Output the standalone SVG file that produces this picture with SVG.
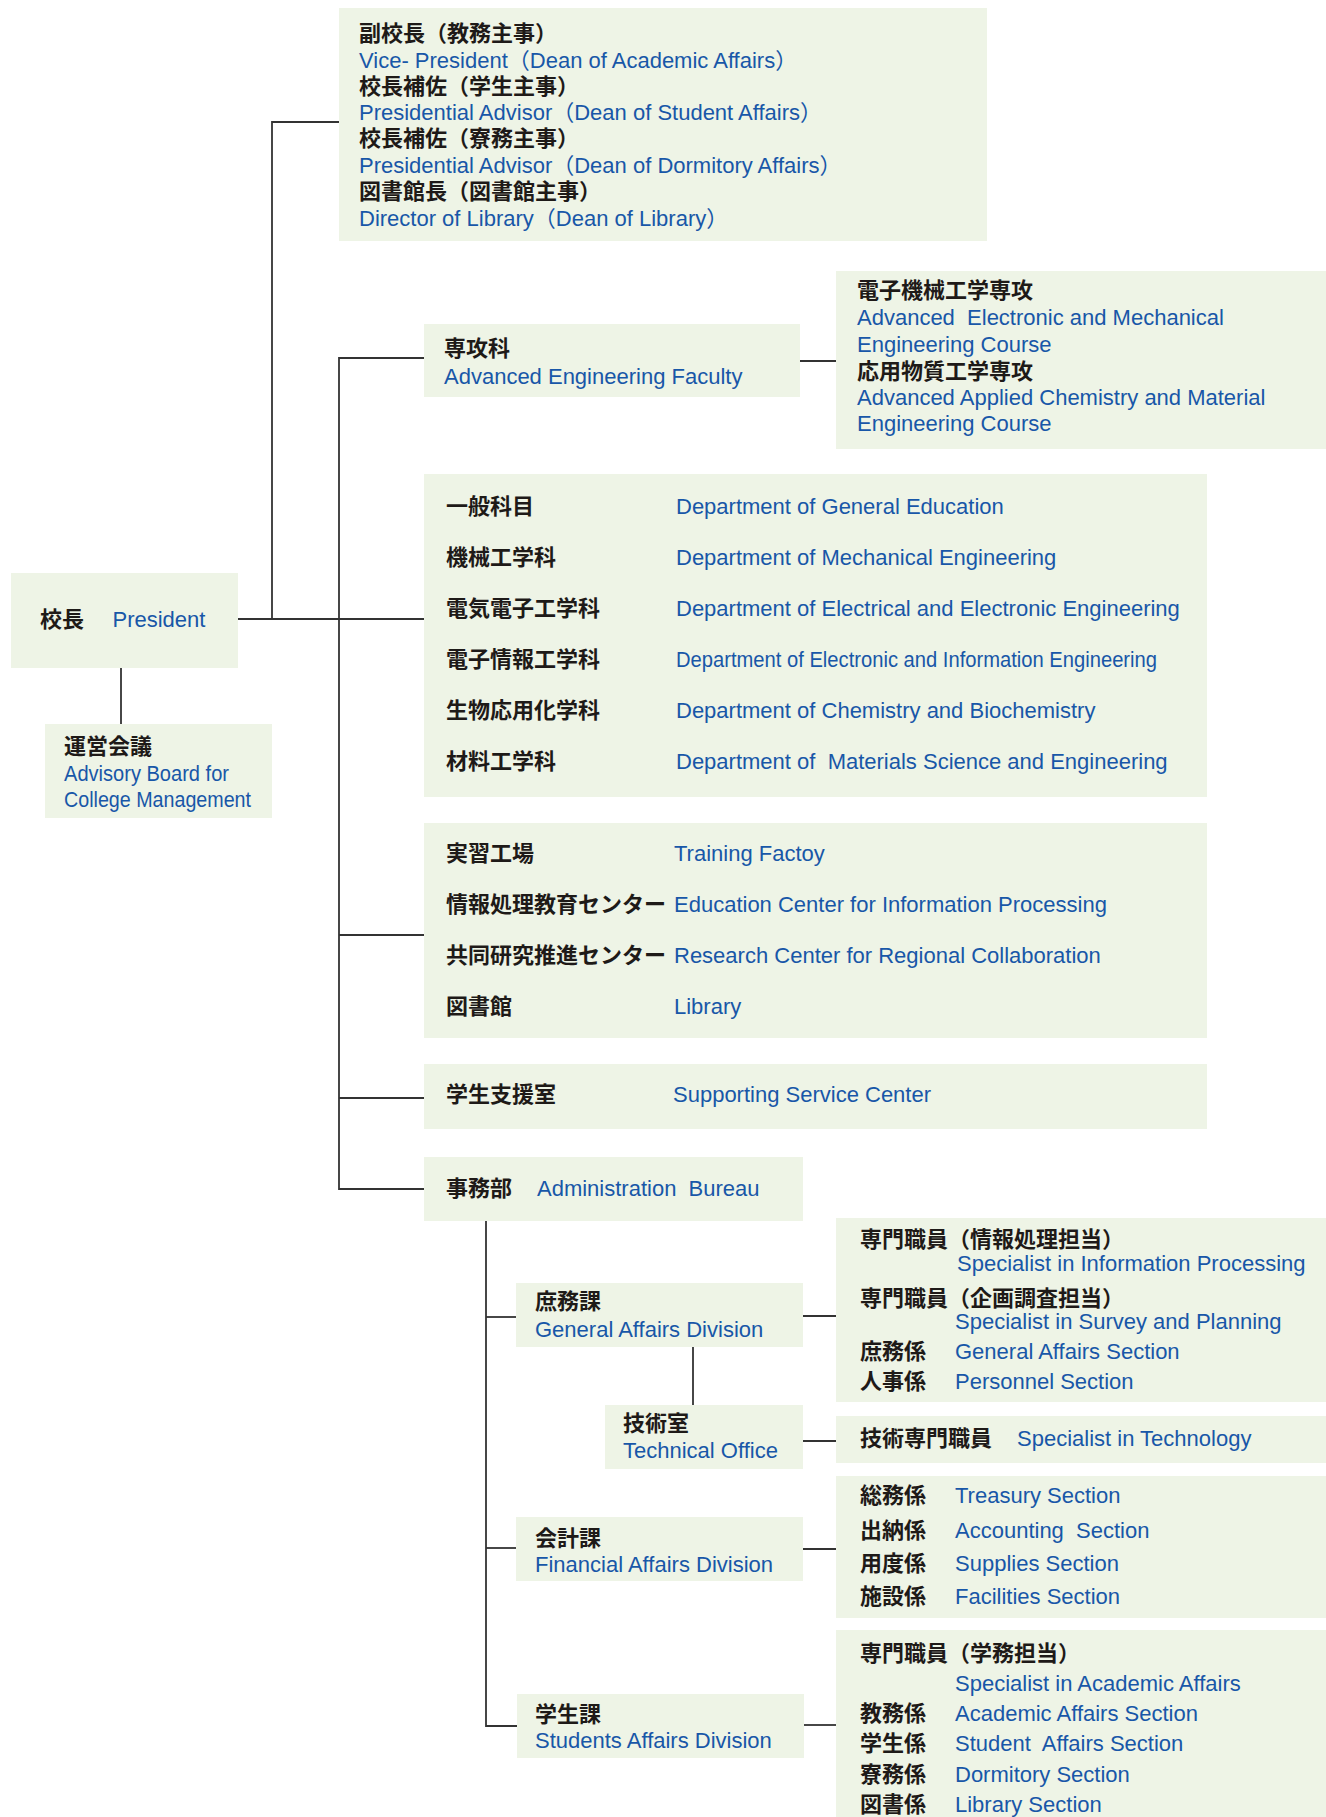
<svg xmlns="http://www.w3.org/2000/svg" width="1326" height="1817" viewBox="0 0 1326 1817">
<style>
.bx{fill:#eef4e6}
.ln{stroke:#333333;stroke-width:1.8;fill:none}
text{font-family:"Liberation Sans","Noto Sans CJK JP",sans-serif;font-size:22px}
.j{fill:#1e1a18;font-weight:bold}
.e{fill:#1857a8}
</style>
<rect width="1326" height="1817" fill="#ffffff"/>
<g id="connectors">
<path class="ln" d="M339 122H272V619"/>
<path class="ln" d="M238 619H424"/>
<path class="ln" d="M424 358H339V1189H424"/>
<path class="ln" d="M800 361H836"/>
<path class="ln" d="M339 935H424"/>
<path class="ln" d="M339 1098H424"/>
<path class="ln" d="M121 667V724"/>
<path class="ln" d="M486 1221V1726H517"/>
<path class="ln" d="M486 1317H516"/>
<path class="ln" d="M803 1316H836"/>
<path class="ln" d="M693 1347V1405"/>
<path class="ln" d="M803 1441H836"/>
<path class="ln" d="M486 1548H516"/>
<path class="ln" d="M803 1549H836"/>
<path class="ln" d="M804 1725H836"/>
</g>
<g id="vice">
<rect class="bx" x="339" y="8" width="648" height="233"/>
<text class="j" x="359" y="41">副校長（教務主事）</text>
<text class="e" x="359" y="68">Vice- President（Dean of Academic Affairs）</text>
<text class="j" x="359" y="94">校長補佐（学生主事）</text>
<text class="e" x="359" y="120">Presidential Advisor（Dean of Student Affairs）</text>
<text class="j" x="359" y="146">校長補佐（寮務主事）</text>
<text class="e" x="359" y="173">Presidential Advisor（Dean of Dormitory Affairs）</text>
<text class="j" x="359" y="199">図書館長（図書館主事）</text>
<text class="e" x="359" y="226">Director of Library（Dean of Library）</text>
</g>
<g id="president">
<rect class="bx" x="11" y="573" width="227" height="95"/>
<text class="j" x="40" y="626.5">校長</text>
<text class="e" x="112.5" y="626.5">President</text>
</g>
<g id="advisory">
<rect class="bx" x="45" y="724" width="227" height="94"/>
<text class="j" x="64" y="754">運営会議</text>
<text class="e" x="64" y="781" textLength="165" lengthAdjust="spacingAndGlyphs">Advisory Board for</text>
<text class="e" x="64" y="807" textLength="187" lengthAdjust="spacingAndGlyphs">College Management</text>
</g>
<g id="faculty">
<rect class="bx" x="424" y="324" width="376" height="73"/>
<text class="j" x="444" y="355.5">専攻科</text>
<text class="e" x="444" y="383.5">Advanced Engineering Faculty</text>
</g>
<g id="courses">
<rect class="bx" x="836" y="271" width="490" height="178"/>
<text class="j" x="857" y="298">電子機械工学専攻</text>
<text class="e" x="857" y="325">Advanced&#160; Electronic and Mechanical</text>
<text class="e" x="857" y="352">Engineering Course</text>
<text class="j" x="857" y="379">応用物質工学専攻</text>
<text class="e" x="857" y="405">Advanced Applied Chemistry and Material</text>
<text class="e" x="857" y="431">Engineering Course</text>
</g>
<g id="departments">
<rect class="bx" x="424" y="474" width="783" height="323"/>
<text class="j" x="446" y="514">一般科目</text>
<text class="e" x="676" y="514">Department of General Education</text>
<text class="j" x="446" y="565">機械工学科</text>
<text class="e" x="676" y="565">Department of Mechanical Engineering</text>
<text class="j" x="446" y="616">電気電子工学科</text>
<text class="e" x="676" y="616">Department of Electrical and Electronic Engineering</text>
<text class="j" x="446" y="667">電子情報工学科</text>
<text class="e" x="676" y="667" textLength="481" lengthAdjust="spacingAndGlyphs">Department of Electronic and Information Engineering</text>
<text class="j" x="446" y="718">生物応用化学科</text>
<text class="e" x="676" y="718">Department of Chemistry and Biochemistry</text>
<text class="j" x="446" y="769">材料工学科</text>
<text class="e" x="676" y="769">Department of&#160; Materials Science and Engineering</text>
</g>
<g id="centers">
<rect class="bx" x="424" y="823" width="783" height="215"/>
<text class="j" x="446" y="860.5">実習工場</text>
<text class="e" x="674" y="860.5">Training Factoy</text>
<text class="j" x="446" y="912">情報処理教育センター</text>
<text class="e" x="674" y="912">Education Center for Information Processing</text>
<text class="j" x="446" y="963">共同研究推進センター</text>
<text class="e" x="674" y="963">Research Center for Regional Collaboration</text>
<text class="j" x="446" y="1014">図書館</text>
<text class="e" x="674" y="1014">Library</text>
</g>
<g id="support">
<rect class="bx" x="424" y="1064" width="783" height="65"/>
<text class="j" x="446" y="1102">学生支援室</text>
<text class="e" x="673" y="1102">Supporting Service Center</text>
</g>
<g id="bureau">
<rect class="bx" x="424" y="1157" width="379" height="64"/>
<text class="j" x="446" y="1196">事務部</text>
<text class="e" x="537" y="1196">Administration&#160; Bureau</text>
</g>
<g id="general-affairs">
<rect class="bx" x="516" y="1283" width="287" height="64"/>
<text class="j" x="535" y="1309">庶務課</text>
<text class="e" x="535" y="1337">General Affairs Division</text>
</g>
<g id="general-sections">
<rect class="bx" x="836" y="1218" width="490" height="184"/>
<text class="j" x="860" y="1247">専門職員（情報処理担当）</text>
<text class="e" x="957" y="1271">Specialist in Information Processing</text>
<text class="j" x="860" y="1306">専門職員（企画調査担当）</text>
<text class="e" x="955" y="1329">Specialist in Survey and Planning</text>
<text class="j" x="860" y="1359">庶務係</text>
<text class="e" x="955" y="1359">General Affairs Section</text>
<text class="j" x="860" y="1389">人事係</text>
<text class="e" x="955" y="1389">Personnel Section</text>
</g>
<g id="technical">
<rect class="bx" x="605" y="1405" width="198" height="64"/>
<text class="j" x="623" y="1431">技術室</text>
<text class="e" x="623" y="1458">Technical Office</text>
</g>
<g id="technical-staff">
<rect class="bx" x="836" y="1416" width="490" height="47"/>
<text class="j" x="860" y="1446">技術専門職員</text>
<text class="e" x="1017" y="1446">Specialist in Technology</text>
</g>
<g id="financial">
<rect class="bx" x="516" y="1517" width="287" height="64"/>
<text class="j" x="535" y="1546">会計課</text>
<text class="e" x="535" y="1572">Financial Affairs Division</text>
</g>
<g id="financial-sections">
<rect class="bx" x="836" y="1476" width="490" height="142"/>
<text class="j" x="860" y="1502.5">総務係</text>
<text class="e" x="955" y="1502.5">Treasury Section</text>
<text class="j" x="860" y="1537.5">出納係</text>
<text class="e" x="955" y="1537.5">Accounting&#160; Section</text>
<text class="j" x="860" y="1571">用度係</text>
<text class="e" x="955" y="1571">Supplies Section</text>
<text class="j" x="860" y="1604">施設係</text>
<text class="e" x="955" y="1604">Facilities Section</text>
</g>
<g id="students">
<rect class="bx" x="517" y="1694" width="287" height="64"/>
<text class="j" x="535" y="1721.5">学生課</text>
<text class="e" x="535" y="1747.5">Students Affairs Division</text>
</g>
<g id="students-sections">
<rect class="bx" x="836" y="1630" width="490" height="187"/>
<text class="j" x="860" y="1660.5">専門職員（学務担当）</text>
<text class="e" x="955" y="1690.5">Specialist in Academic Affairs</text>
<text class="j" x="860" y="1720.5">教務係</text>
<text class="e" x="955" y="1720.5">Academic Affairs Section</text>
<text class="j" x="860" y="1750.5">学生係</text>
<text class="e" x="955" y="1750.5">Student&#160; Affairs Section</text>
<text class="j" x="860" y="1781.5">寮務係</text>
<text class="e" x="955" y="1781.5">Dormitory Section</text>
<text class="j" x="860" y="1811.5">図書係</text>
<text class="e" x="955" y="1811.5">Library Section</text>
</g>
</svg>
